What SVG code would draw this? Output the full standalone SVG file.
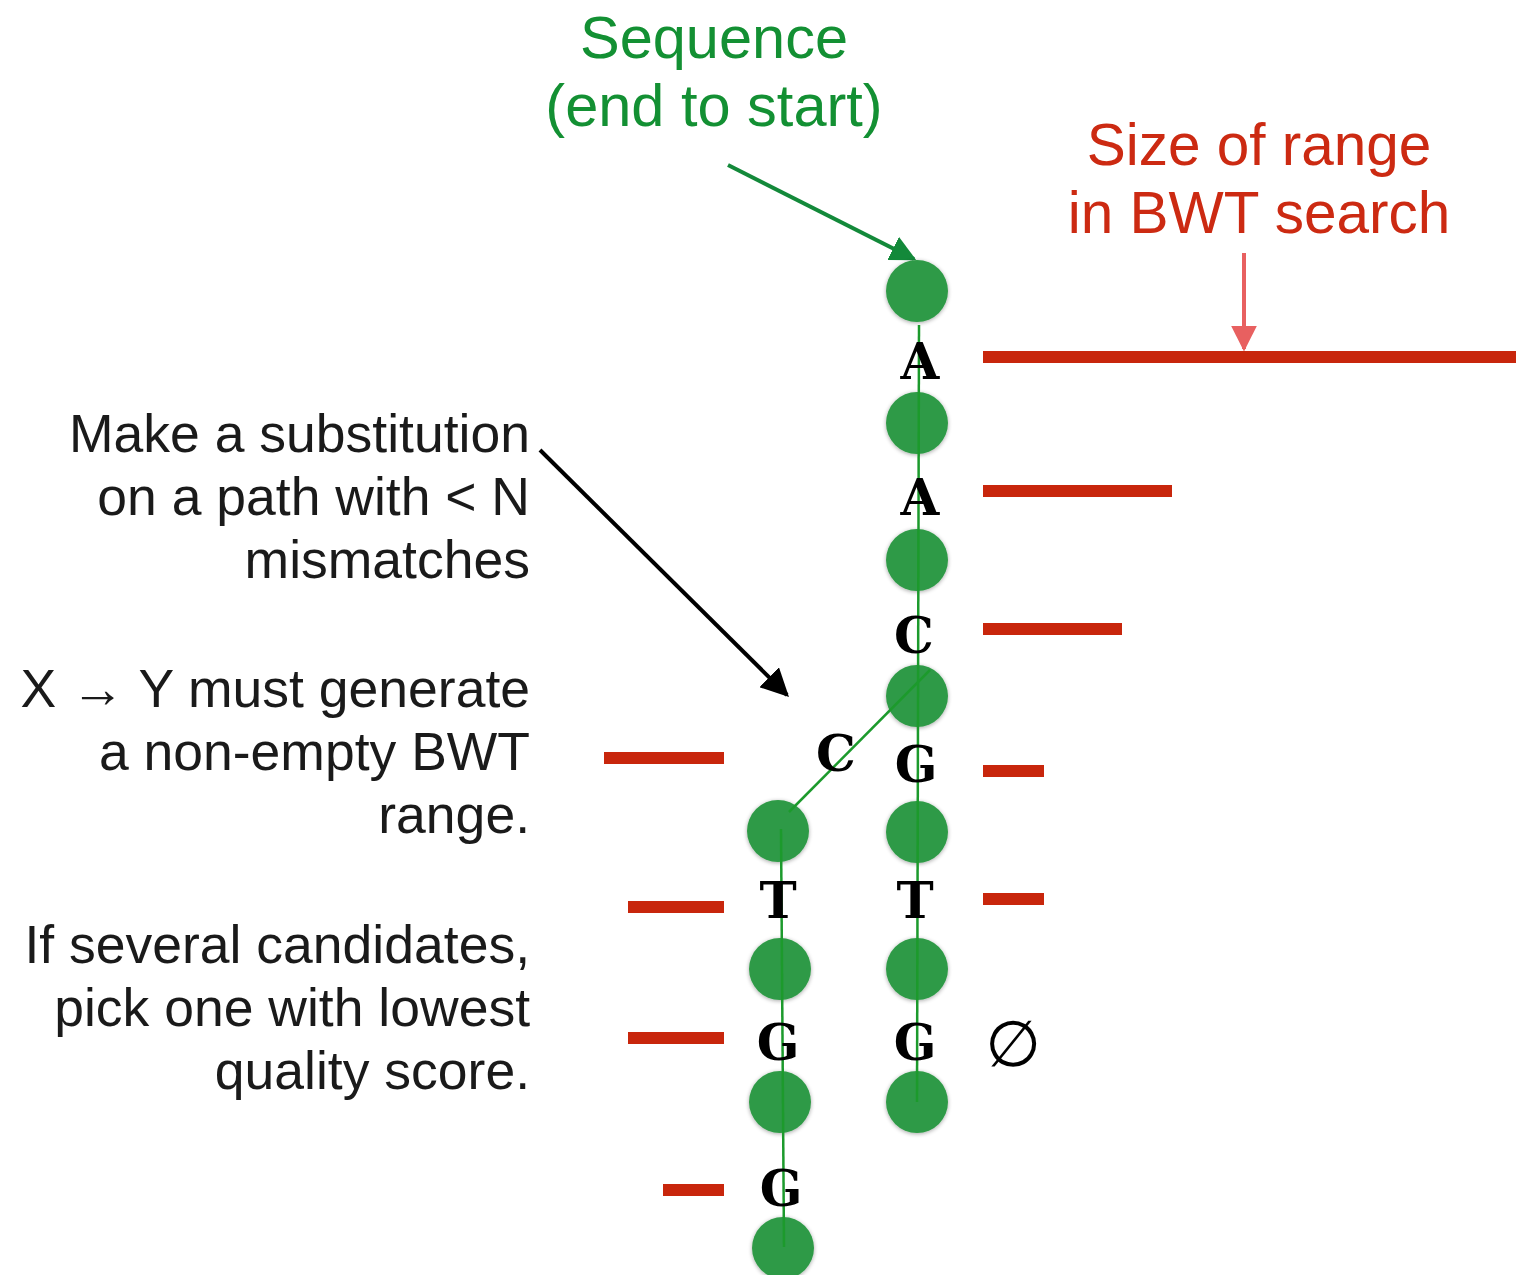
<svg xmlns="http://www.w3.org/2000/svg" width="1516" height="1275" viewBox="0 0 1516 1275">
<defs>
<filter id="sh" x="-30%" y="-30%" width="160%" height="160%"><feGaussianBlur in="SourceAlpha" stdDeviation="2"/><feOffset dx="0" dy="1"/><feComponentTransfer><feFuncA type="linear" slope="0.35"/></feComponentTransfer><feMerge><feMergeNode/><feMergeNode in="SourceGraphic"/></feMerge></filter>
<marker id="ag" viewBox="0 0 10 10" refX="9" refY="5" markerWidth="6.5" markerHeight="6.5" orient="auto" markerUnits="strokeWidth"><path d="M0,0 L10,5 L0,10 z" fill="#13893a"/></marker>
<marker id="ak" viewBox="0 0 10 10" refX="9" refY="5" markerWidth="7" markerHeight="7" orient="auto" markerUnits="strokeWidth"><path d="M0,0 L10,5 L0,10 z" fill="#000"/></marker>
<marker id="ar" viewBox="0 0 10 10" refX="9" refY="5" markerWidth="6.5" markerHeight="6.5" orient="auto" markerUnits="strokeWidth"><path d="M0,0 L10,5 L0,10 z" fill="#e86060"/></marker>
</defs>
<style>
.n{fill:#2f9a46;filter:url(#sh)}
.e{stroke:#1c9a2c;stroke-width:2.5;fill:none}
.bar{fill:#c8260c}
.b{font-family:"DejaVu Serif","Liberation Serif",serif;font-size:50px;font-weight:bold;fill:#000;text-anchor:middle}
.lt{font-family:"Liberation Sans",Arial,sans-serif;font-size:53.5px;fill:#1a1a1a;text-anchor:end}
.gt{font-family:"Liberation Sans",Arial,sans-serif;font-size:59.5px;fill:#139033;text-anchor:middle}
.rt{font-family:"Liberation Sans",Arial,sans-serif;font-size:58.5px;fill:#cc2a12;text-anchor:middle}
</style>
<rect width="1516" height="1275" fill="#fff"/>
<g id="connectors">
<line x1="728" y1="165" x2="914" y2="259" stroke="#13893a" stroke-width="4" marker-end="url(#ag)"/>
<line x1="540" y1="450" x2="787" y2="695" stroke="#000" stroke-width="4" marker-end="url(#ak)"/>
<line x1="1244" y1="253" x2="1244" y2="349" stroke="#e86060" stroke-width="4" marker-end="url(#ar)"/>
</g>
<g id="nodes-main">
<circle id="m0" class="n" cx="917" cy="291" r="31"/>
<circle id="m1" class="n" cx="917" cy="423" r="31"/>
<circle id="m2" class="n" cx="917" cy="560" r="31"/>
<circle id="m3" class="n" cx="917" cy="696" r="31"/>
<circle id="m4" class="n" cx="917" cy="832" r="31"/>
<circle id="m5" class="n" cx="917" cy="969" r="31"/>
<circle id="m6" class="n" cx="917" cy="1102" r="31"/>
</g>
<g id="nodes-branch">
<circle id="b0" class="n" cx="778" cy="831" r="31"/>
<circle id="b1" class="n" cx="780" cy="969" r="31"/>
<circle id="b2" class="n" cx="780" cy="1102" r="31"/>
<circle id="b3" class="n" cx="783" cy="1248" r="31"/>
</g>
<g id="edges">
<line class="e" x1="919" y1="325" x2="917" y2="1102"/>
<line class="e" x1="930" y1="670" x2="789" y2="812"/>
<line class="e" x1="781" y1="829" x2="784" y2="1247"/>
</g>
<g id="letters">
<text class="b" x="920" y="379">A</text>
<text class="b" x="920" y="515">A</text>
<text class="b" x="914" y="653">C</text>
<text class="b" x="916" y="782">G</text>
<text class="b" x="915" y="918">T</text>
<text class="b" x="915" y="1060">G</text>
<text class="b" x="836" y="771">C</text>
<text class="b" x="778" y="918">T</text>
<text class="b" x="778" y="1060">G</text>
<text class="b" x="781" y="1206">G</text>
<text x="1013" y="1066" font-family="'DejaVu Sans',sans-serif" font-size="64" text-anchor="middle" fill="#000">∅</text>
</g>
<g id="bars">
<rect class="bar" x="983" y="351" width="533" height="12"/>
<rect class="bar" x="983" y="485" width="189" height="12"/>
<rect class="bar" x="983" y="623" width="139" height="12"/>
<rect class="bar" x="983" y="765" width="61" height="12"/>
<rect class="bar" x="983" y="893" width="61" height="12"/>
<rect class="bar" x="604" y="752" width="120" height="12"/>
<rect class="bar" x="628" y="901" width="96" height="12"/>
<rect class="bar" x="628" y="1032" width="96" height="12"/>
<rect class="bar" x="663" y="1184" width="61" height="12"/>
</g>
<g id="labels">
<text class="gt" x="714" y="58">Sequence</text>
<text class="gt" x="714" y="126">(end to start)</text>
<text class="rt" x="1259" y="165">Size of range</text>
<text class="rt" x="1259" y="233">in BWT search</text>
<text class="lt" x="530" y="452">Make a substitution</text>
<text class="lt" x="530" y="515">on a path with &lt; N</text>
<text class="lt" x="530" y="578">mismatches</text>
<text class="lt" x="530" y="707">X → Y must generate</text>
<text class="lt" x="530" y="770">a non-empty BWT</text>
<text class="lt" x="530" y="833">range.</text>
<text class="lt" x="530" y="963">If several candidates,</text>
<text class="lt" x="530" y="1026">pick one with lowest</text>
<text class="lt" x="530" y="1089">quality score.</text>
</g>
</svg>
